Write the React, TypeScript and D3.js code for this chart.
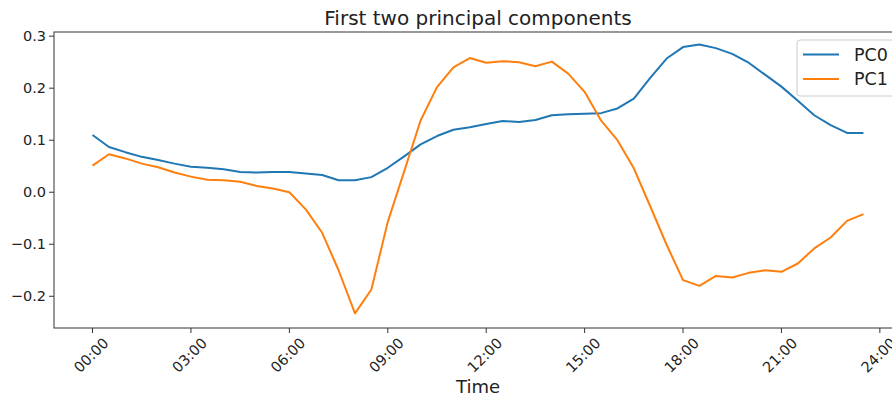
import React, { useRef, useEffect } from "react";
import * as d3 from "d3";

// half-hourly samples, 00:00 .. 23:30
const hours = d3.range(0, 24, 0.5);

const pc0 = [
  0.110, 0.087, 0.077, 0.068, 0.062, 0.055, 0.049, 0.047, 0.044, 0.039, 0.038, 0.039,
  0.039, 0.036, 0.033, 0.023, 0.023, 0.029, 0.047, 0.069, 0.092, 0.108, 0.120, 0.125,
  0.131, 0.137, 0.135, 0.139, 0.148, 0.150, 0.151, 0.152, 0.161, 0.180, 0.220, 0.257,
  0.279, 0.284, 0.277, 0.266, 0.249, 0.226, 0.203, 0.176, 0.148, 0.129, 0.114, 0.114,
];

const pc1 = [
  0.051, 0.073, 0.065, 0.055, 0.048, 0.038, 0.030, 0.024, 0.023, 0.020, 0.012, 0.007,
  0.000, -0.033, -0.078, -0.150, -0.233, -0.187, -0.057, 0.040, 0.138, 0.202, 0.240, 0.258,
  0.249, 0.252, 0.250, 0.242, 0.251, 0.228, 0.193, 0.138, 0.100, 0.046, -0.027, -0.101,
  -0.169, -0.180, -0.161, -0.164, -0.155, -0.150, -0.153, -0.137, -0.108, -0.087, -0.055, -0.042,
];

const seriesNames = ["PC0", "PC1"];
const seriesColors = ["#1f77b4", "#ff7f0e"];
const xTicks = [0, 3, 6, 9, 12, 15, 18, 21, 24];
const yTicks = [-0.2, -0.1, 0.0, 0.1, 0.2, 0.3];

const W = 892;
const H = 398;
const FONT = "DejaVu Sans, sans-serif";

const App = () => {
  const ref = useRef<SVGSVGElement>(null);

  useEffect(() => {
    if (!ref.current) return;
    const svg = d3.select(ref.current);
    svg.selectAll("*").remove();

    const left = 54, top = 32, bottom = 328;
    const right = 902; // right spine sits just past the visible edge

    const x = d3.scaleLinear().domain([-1.175, 24.675]).range([left, right]);
    const y = d3.scaleLinear().domain([-0.261, 0.308]).range([bottom, top]);

    const fmtTime = (h: number) => `${String(h).padStart(2, "0")}:00`;
    const fmtY = (v: number) => d3.format(".1f")(v).replace("-", "\u2212");

    // lines
    const line = d3
      .line<number>()
      .x((_, i) => x(hours[i]))
      .y((d) => y(d));

    [pc0, pc1].forEach((s, i) => {
      svg
        .append("path")
        .datum(s)
        .attr("d", line)
        .attr("fill", "none")
        .attr("stroke", seriesColors[i])
        .attr("stroke-width", 2)
        .attr("stroke-linejoin", "round");
    });

    // spines
    svg
      .append("rect")
      .attr("x", left)
      .attr("y", top)
      .attr("width", right - left)
      .attr("height", bottom - top)
      .attr("fill", "none")
      .attr("stroke", "#333")
      .attr("stroke-width", 1);

    // y axis ticks
    yTicks.forEach((t) => {
      const yy = y(t);
      svg
        .append("line")
        .attr("x1", left - 5)
        .attr("x2", left)
        .attr("y1", yy)
        .attr("y2", yy)
        .attr("stroke", "#333");
      svg
        .append("text")
        .attr("x", left - 8)
        .attr("y", yy)
        .attr("dy", "0.36em")
        .attr("text-anchor", "end")
        .style("font-family", FONT)
        .style("font-size", "14.5px")
        .style("fill", "#222")
        .text(fmtY(t));
    });

    // x axis ticks, rotated labels
    xTicks.forEach((t) => {
      const xx = x(t);
      svg
        .append("line")
        .attr("x1", xx)
        .attr("x2", xx)
        .attr("y1", bottom)
        .attr("y2", bottom + 5)
        .attr("stroke", "#333");
      const cy = 355;
      svg
        .append("text")
        .attr("x", xx - 1.5)
        .attr("y", cy)
        .attr("dy", "0.36em")
        .attr("text-anchor", "middle")
        .attr("transform", `rotate(-45, ${xx - 1.5}, ${cy})`)
        .style("font-family", FONT)
        .style("font-size", "14.5px")
        .style("fill", "#222")
        .text(fmtTime(t));
    });

    // title and axis label
    svg
      .append("text")
      .attr("x", (left + right) / 2)
      .attr("y", 25)
      .attr("text-anchor", "middle")
      .style("font-family", FONT)
      .style("font-size", "20px")
      .style("fill", "#222")
      .text("First two principal components");

    svg
      .append("text")
      .attr("x", (left + right) / 2)
      .attr("y", 393)
      .attr("text-anchor", "middle")
      .style("font-family", FONT)
      .style("font-size", "18px")
      .style("fill", "#222")
      .text("Time");

    // legend
    const lg = svg.append("g").attr("transform", "translate(797,40)");
    lg.append("rect")
      .attr("width", 110)
      .attr("height", 56)
      .attr("rx", 3)
      .attr("fill", "white")
      .attr("fill-opacity", 0.8)
      .attr("stroke", "#ccc");
    seriesNames.forEach((name, i) => {
      const ly = 14.5 + i * 24.5;
      lg.append("line")
        .attr("x1", 6)
        .attr("x2", 42)
        .attr("y1", ly)
        .attr("y2", ly)
        .attr("stroke", seriesColors[i])
        .attr("stroke-width", 2);
      lg.append("text")
        .attr("x", 57)
        .attr("y", ly)
        .attr("dy", "0.36em")
        .style("font-family", FONT)
        .style("font-size", "17.5px")
        .style("fill", "#222")
        .text(name);
    });
  }, []);

  return (
    <svg
      ref={ref}
      width={W}
      height={H}
      style={{ position: "absolute", left: 0, top: 0, background: "white" }}
    />
  );
};

export default App;
